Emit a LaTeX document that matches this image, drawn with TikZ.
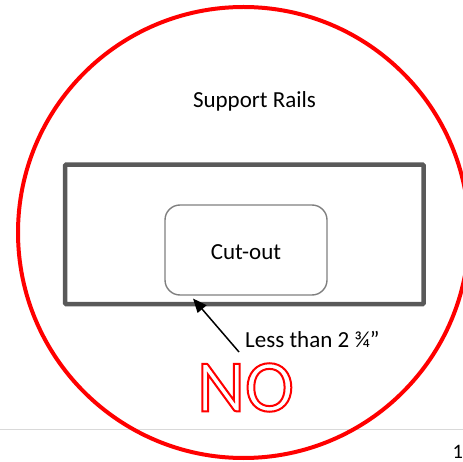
\documentclass[tikz,border=0pt]{standalone}
\usepackage{fontspec}
\setmainfont{Carlito}
\usetikzlibrary{arrows.meta, positioning}
\definecolor{RingRed}{HTML}{FF0000}
\definecolor{RailGray}{HTML}{595959}
\definecolor{CutGray}{HTML}{7F7F7F}
\definecolor{RuleGray}{HTML}{D9D9D9}
\newcommand{\outlined}[1]{\special{pdf:literal direct 1 Tr 2 w 1 0 0 RG}#1\special{pdf:literal direct 0 Tr}}

\begin{document}
\begin{tikzpicture}[
            x=1pt, y=-1pt, >=Stealth,
            ring/.style = {circle, draw=RingRed, line width=4pt, minimum size=451pt, inner sep=0pt},
            rail/.style = {rectangle, draw=RailGray, line width=4.5pt, minimum width=358.7pt, minimum height=139.3pt, rounded corners=1pt},
            cutout/.style = {rectangle, draw=CutGray, line width=1.4pt, minimum width=162pt, minimum height=90pt, rounded corners=15pt, text height=19pt, text depth=0pt, font=\fontsize{23}{26}\selectfont},
            label/.style = {font=\fontsize{23}{26}\selectfont, inner sep=0pt},
            arrow/.style = {draw, -{Triangle[length=14pt, width=11.5pt]}, line width=1.5pt, black}
        ]
            \useasboundingbox (0,0) rectangle (463,462);
            % page rule and page number
            \draw [RuleGray, line width=1.3pt] (-5,429.5) -- (470,429.5);
            \node [label, anchor=base west, font=\fontsize{20.5}{24}\selectfont] (page) at (452.5,458) {1};

            \node [ring] (ring) at (243.5,232.5) {};
            \node [label, anchor=base] (title) at (254.5,107.3) {Support Rails};
            \node [rail] (rail) at (244.35,234.35) {};
            \node [cutout] (cut) at (246,250) {Cut-out};
            \node [label, anchor=base west] (less) at (245,347) {Less than 2 ¾”};
            \coordinate (tip) at (193,298.5);
            \node [inner sep=0pt, text=RingRed, font=\fontsize{74}{80}\selectfont] (no) at (245.5,387.5) {\outlined{NO}};

            \draw [arrow] ([xshift=-6pt, yshift=-5pt]less.base west) -- (tip);
        \end{tikzpicture}
\end{document}
